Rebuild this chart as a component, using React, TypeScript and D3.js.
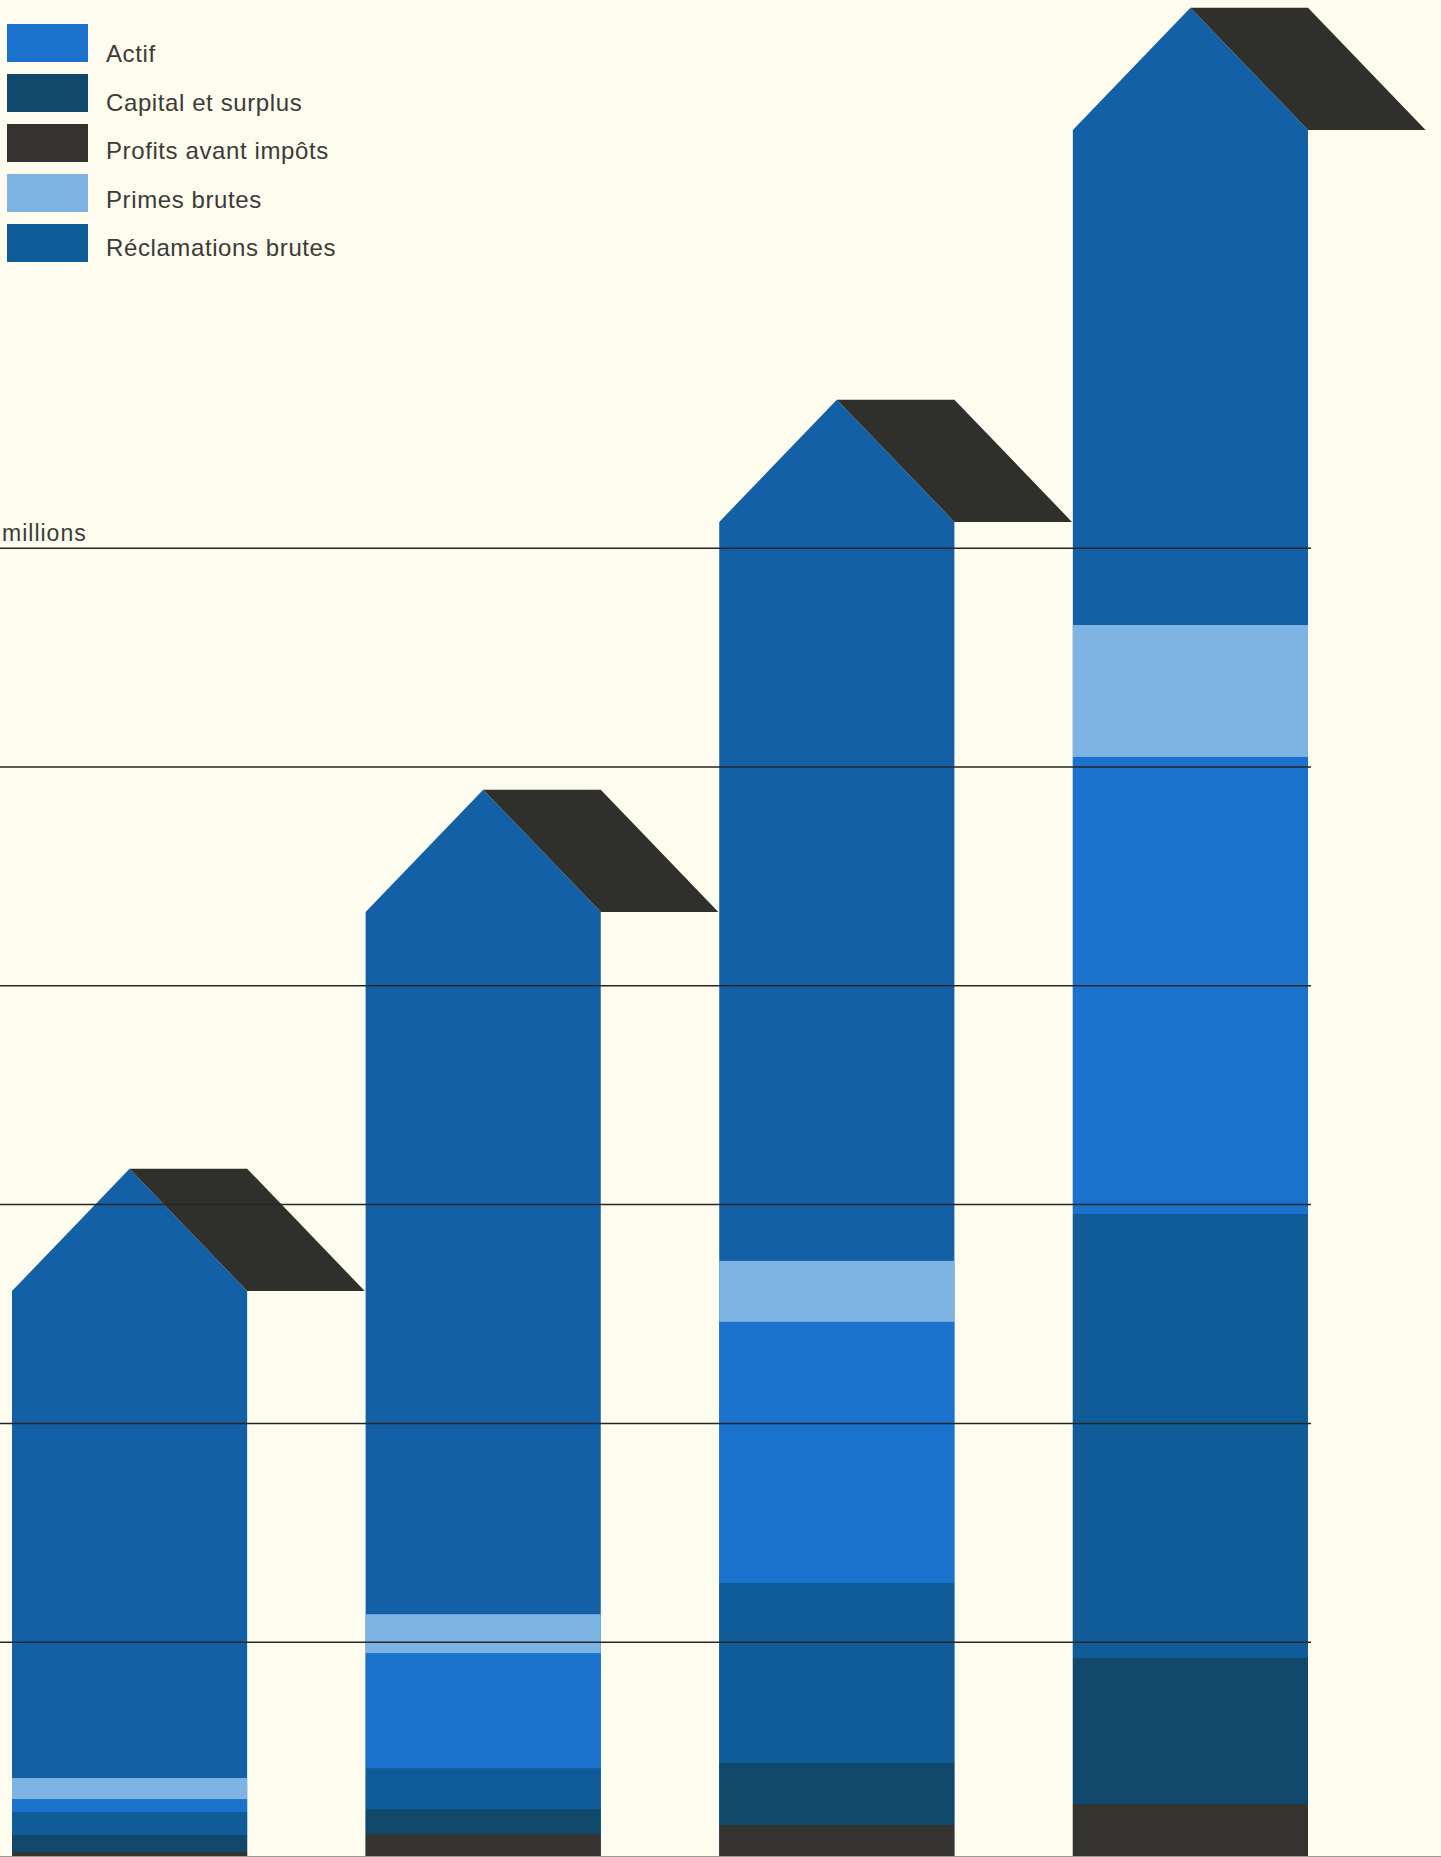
import React from "react";
import * as d3 from "d3";

const categories = ["Période 1", "Période 2", "Période 3", "Période 4"];
// values in millions (gridline step = 100)
const profits = [4.1, 12.3, 16.5, 26.1];
const capital = [7.8, 11.4, 28.3, 66.7];
const reclamations = [10.5, 18.7, 82.3, 202.9];
const actif = [5.9, 52.6, 119.3, 208.9];
const primes = [9.6, 17.8, 27.9, 60.3];
const houseTotal = [260.5, 433.7, 612.0, 791.1];
const gridTicks = [100, 200, 300, 400, 500, 600];

const legendItems = [
  { label: "Actif", color: "#1a72cc" },
  { label: "Capital et surplus", color: "#0f486a" },
  { label: "Profits avant impôts", color: "#34332f" },
  { label: "Primes brutes", color: "#7db4e4" },
  { label: "Réclamations brutes", color: "#0f5c99" },
];

const stackSeries = [
  { key: "profits", values: profits, color: "#34332f" },
  { key: "capital", values: capital, color: "#0f486a" },
  { key: "reclamations", values: reclamations, color: "#0f5c99" },
  { key: "actif", values: actif, color: "#1a72cc" },
  { key: "primes", values: primes, color: "#7db4e4" },
];

const HOUSE = "#1460a7";
const ROOF = "#2f2f2c";
const BG = "#fefcee";

export default function App() {
  const W = 1441;
  const H = 1857;
  const baseline = 1861;
  const x = d3.scaleBand<string>().domain(categories).range([12, 1308]).paddingInner(0.335).paddingOuter(0);
  const y = d3.scaleLinear().domain([0, 800]).range([baseline, baseline - 800 * 2.188]);
  const bw = x.bandwidth();
  const half = bw / 2;
  const rise = half * 1.04;
  const gridRight = (x.range()[1] as number) + 3;

  return (
    <svg width={W} height={H} style={{ position: "absolute", left: 0, top: 0, display: "block" }}>
      <rect x={0} y={0} width={W} height={H} fill={BG} />
      {categories.map((c, i) => {
        const left = x(c) as number;
        const right = left + bw;
        const cx = left + half;
        const sh = y(houseTotal[i]);
        const peak = sh - rise;
        const house = `M${left},${baseline}L${left},${sh}L${cx},${peak}L${right},${sh}L${right},${baseline}Z`;
        const roof = `M${cx},${peak}L${cx + half},${peak}L${right + half},${sh}L${right},${sh}Z`;
        let acc = 0;
        const segs = stackSeries.map((s) => {
          const v0 = acc;
          acc += s.values[i];
          return (
            <rect key={s.key} x={left} width={bw} y={y(acc)} height={y(v0) - y(acc)} fill={s.color} />
          );
        });
        return (
          <g key={c}>
            <path d={house} fill={HOUSE} />
            {segs}
            <path d={roof} fill={ROOF} />
          </g>
        );
      })}
      {gridTicks.map((t) => (
        <line key={t} x1={0} x2={gridRight} y1={y(t)} y2={y(t)} stroke="#262626" strokeWidth={1.5} />
      ))}
      <line x1={0} x2={W} y1={1856.5} y2={1856.5} stroke="#9a9a96" strokeWidth={1} />
      <text x={2} y={541} fontFamily="'Liberation Sans', Arial, sans-serif" fontSize={23} letterSpacing={1} fill="#3b3b38">
        millions
      </text>
      {legendItems.map((d, i) => (
        <g key={d.label}>
          <rect x={7} y={24 + i * 50} width={81} height={38} fill={d.color} />
          <text x={106} y={62 + i * 48.5} fontFamily="'Liberation Sans', Arial, sans-serif" fontSize={24} letterSpacing={0.6} fill="#3b3b38">
            {d.label}
          </text>
        </g>
      ))}
    </svg>
  );
}
